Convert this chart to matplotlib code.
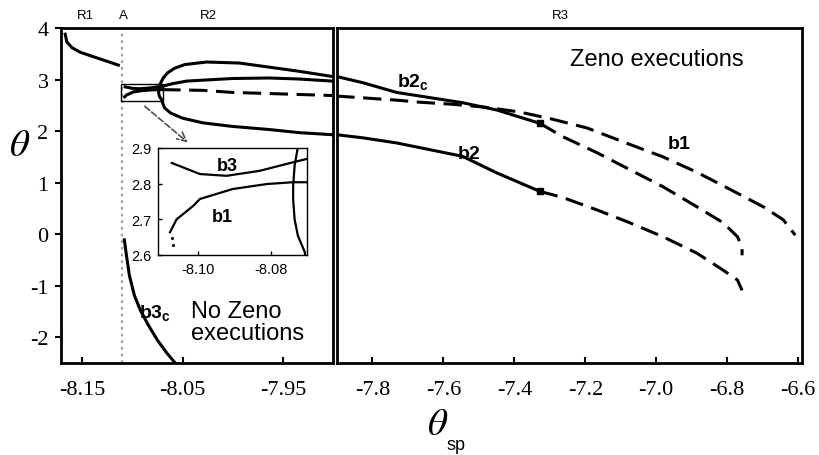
#! /usr/bin/env python3

import numpy as np
import matplotlib
matplotlib.use("Agg")
import matplotlib.pyplot as plt
import matplotlib.patches as patches

plt.rcParams['axes.unicode_minus'] = False
plt.rcParams['mathtext.fontset'] = 'custom'
plt.rcParams['mathtext.bf'] = 'Liberation Sans:bold'
plt.rcParams['mathtext.rm'] = 'Liberation Sans'

SANS = 'Liberation Sans'
SERIF = 'Liberation Serif'

# ---- data (theta_sp, theta) ----
# R1 branch
r1_x = [-8.1668, -8.1652, -8.1602, -8.1520, -8.1322, -8.1140]
r1_y = [3.88, 3.73, 3.62, 3.53, 3.40, 3.28]

# fold ("fish"): lower branch -> nose -> upper branch
fish_x = [-7.9015, -7.9342, -7.9639, -8.0005, -8.0300, -8.0500, -8.0620, -8.0680, -8.0700,
          -8.0707, -8.0726, -8.0735, -8.0739, -8.0739, -8.0735, -8.0727,
          -8.0715, -8.0690, -8.0650, -8.0580, -8.0480, -8.0262, -7.9936, -7.9639, -7.9342, -7.9015]
fish_y = [1.93, 1.97, 2.03, 2.09, 2.16, 2.25, 2.35, 2.45, 2.55,
          2.608, 2.654, 2.70, 2.757, 2.794, 2.850, 2.897,
          2.95, 3.04, 3.13, 3.22, 3.29, 3.34, 3.32, 3.24, 3.16, 3.06]

# b3 (solid) + middle branch
b3_x = [-8.1072, -8.0995, -8.0922, -8.0831, -8.0739, -8.0703, -8.0600, -8.0460, -8.0005, -7.9639, -7.9342, -7.9015]
b3_y = [2.858, 2.827, 2.822, 2.836, 2.860, 2.869, 2.92, 2.97, 3.02, 3.03, 3.01, 2.97]

# b1 solid part (inset) and dashed part
b1s_x = [-8.1077, -8.1059, -8.1013, -8.0995, -8.0905, -8.0811, -8.0740, -8.0703]
b1s_y = [2.664, 2.700, 2.738, 2.757, 2.785, 2.799, 2.804, 2.804]
b1dots_x = [-8.1071, -8.1068]
b1dots_y = [2.647, 2.628]
b1d_left_x = [-8.0703, -8.0300, -8.0005, -7.9500, -7.9015]
b1d_left_y = [2.804, 2.79, 2.75, 2.72, 2.69]
b1d_right_x = [-7.902, -7.732, -7.667, -7.574, -7.478, -7.385, -7.292, -7.195, -7.074, -6.981,
               -6.885, -6.792, -6.698, -6.642, -6.608]
b1d_right_y = [2.68, 2.60, 2.56, 2.52, 2.46, 2.37, 2.23, 2.06, 1.74, 1.50,
               1.20, 0.87, 0.53, 0.28, -0.02]

# b3c
b3c_x = [-8.108, -8.106, -8.103, -8.098, -8.092, -8.084, -8.075, -8.066, -8.057]
b3c_y = [-0.11, -0.40, -0.80, -1.19, -1.48, -1.77, -2.06, -2.30, -2.51]

# b2c solid / dashed
b2c_x = [-7.902, -7.828, -7.732, -7.667, -7.546, -7.450, -7.328]
b2c_y = [3.06, 2.94, 2.75, 2.68, 2.55, 2.41, 2.15]
b2cd_x = [-7.328, -7.263, -7.167, -7.074, -6.981, -6.885, -6.811, -6.771, -6.758, -6.758]
b2cd_y = [2.15, 1.89, 1.58, 1.25, 0.92, 0.53, 0.22, -0.05, -0.25, -0.41]

# b2 solid / dashed
b2_x = [-7.902, -7.828, -7.732, -7.546, -7.450, -7.328]
b2_y = [1.93, 1.87, 1.77, 1.51, 1.19, 0.83]
b2d_x = [-7.328, -7.263, -7.167, -7.074, -6.981, -6.885, -6.811, -6.771, -6.758]
b2d_y = [0.83, 0.71, 0.47, 0.22, -0.05, -0.37, -0.70, -0.89, -1.09]

# bifurcation points
sq_x = [-7.328, -7.328]
sq_y = [2.15, 0.83]

line_A = -8.110

left_ticks = [-8.15, -8.05, -7.95]
right_ticks = [-7.8, -7.6, -7.4, -7.2, -7.0, -6.8, -6.6]
y_ticks = [-2, -1, 0, 1, 2, 3, 4]
inset_xticks = [-8.10, -8.08]
inset_yticks = [2.6, 2.7, 2.8, 2.9]

W, H = 819, 456
LW = 2.2
DASH = (6, 2.8)

fig = plt.figure(figsize=(W / 100, H / 100), dpi=100)

def fbox(x0, y0, x1, y1):
    return [x0 / W, 1 - y1 / H, (x1 - x0) / W, (y1 - y0) / H]

ax1 = fig.add_axes(fbox(61, 29, 333, 364))
ax2 = fig.add_axes(fbox(337, 29, 802, 364))
axi = fig.add_axes(fbox(158, 149, 307, 256))

# ---- left axes ----
ax1.axvline(line_A, color='0.62', ls=(0, (1.2, 1.8)), lw=1.6)
ax1.plot(r1_x, r1_y, 'k-', lw=LW)
ax1.plot(fish_x, fish_y, 'k-', lw=LW)
ax1.plot(b3_x, b3_y, 'k-', lw=LW)
ax1.plot(b1s_x, b1s_y, 'k-', lw=LW)
ax1.plot(b1d_left_x, b1d_left_y, 'k', lw=LW, dashes=DASH)
ax1.plot(b3c_x, b3c_y, 'k-', lw=LW)
ax1.add_patch(patches.Rectangle((-8.111, 2.58), 0.041, 0.33, fill=False, lw=1.0, ec='k', zorder=3))
ax1.annotate('', xy=(-8.045, 1.78), xytext=(-8.0876, 2.48),
             arrowprops=dict(arrowstyle='->', ls='--', color='0.3', lw=1.2,
                             shrinkA=0, shrinkB=0, mutation_scale=16))
ax1.set_xlim(-8.171, -7.9005)
ax1.set_ylim(-2.5, 4.0)
ax1.set_xticks(left_ticks)
ax1.set_xticklabels(['%.2f' % v for v in left_ticks], family=SERIF, fontsize=16)
ax1.set_yticks(y_ticks)
ax1.set_yticklabels([str(v) for v in y_ticks], family=SERIF, fontsize=16)
ax1.tick_params(axis='x', direction='in', length=4, width=1.5, pad=12)
ax1.tick_params(axis='y', direction='out', length=4, width=1.5, pad=5)
ax1.text(-8.042, -1.71, 'No Zeno\nexecutions', family=SANS, fontsize=17,
         ha='left', va='center', linespacing=1.0)
ax1.text(-8.0777, -1.52, r'$\mathbf{b3}_{\mathbf{c}}$', fontsize=14, ha='center', va='center')

# ---- right axes ----
ax2.plot(b2c_x, b2c_y, 'k-', lw=LW)
ax2.plot(b2cd_x, b2cd_y, 'k', lw=LW, dashes=DASH)
ax2.plot(b2_x, b2_y, 'k-', lw=LW)
ax2.plot(b2d_x, b2d_y, 'k', lw=LW, dashes=DASH)
ax2.plot(b1d_right_x, b1d_right_y, 'k', lw=LW, dashes=DASH)
ax2.plot(sq_x, sq_y, 'ks', ms=5)
ax2.set_xlim(-7.90, -6.589)
ax2.set_ylim(-2.5, 4.0)
ax2.set_xticks(right_ticks)
ax2.set_xticklabels(['%.1f' % v for v in right_ticks], family=SERIF, fontsize=16)
ax2.set_yticks([])
ax2.tick_params(axis='x', direction='in', length=4, width=1.5, pad=12)
ax2.text(-6.998, 3.40, 'Zeno executions', family=SANS, fontsize=17, ha='center', va='center')
ax2.text(-7.687, 2.95, r'$\mathbf{b2}_{\mathbf{c}}$', fontsize=14, ha='center', va='center')
ax2.text(-7.529, 1.58, r'$\mathbf{b2}$', fontsize=14, ha='center', va='center')
ax2.text(-6.936, 1.78, r'$\mathbf{b1}$', fontsize=14, ha='center', va='center')

for ax in (ax1, ax2):
    for s in ax.spines.values():
        s.set_linewidth(2.0)

# ---- inset ----
axi.plot(fish_x, fish_y, 'k-', lw=1.6)
axi.plot(b3_x, b3_y, 'k-', lw=1.6)
axi.plot(b1s_x, b1s_y, 'k-', lw=1.6)
axi.plot(b1dots_x, b1dots_y, 'k.', ms=2.5)
axi.set_xlim(-8.111, -8.0701)
axi.set_ylim(2.6, 2.9)
axi.set_xticks(inset_xticks)
axi.set_xticklabels(['%.2f' % v for v in inset_xticks], family=SANS, fontsize=10.5)
axi.set_yticks(inset_yticks)
axi.set_yticklabels(['%.1f' % v for v in inset_yticks], family=SANS, fontsize=10.5)
axi.tick_params(direction='in', length=3, width=1, pad=5)
for s in axi.spines.values():
    s.set_linewidth(1.0)
axi.text(-8.0921, 2.852, r'$\mathbf{b3}$', fontsize=13, ha='center', va='center')
axi.text(-8.0935, 2.709, r'$\mathbf{b1}$', fontsize=13, ha='center', va='center')

# ---- labels ----
fig.text(20 / W, 1 - 145 / H, r'$\theta$', math_fontfamily='stix', fontsize=28, ha='center', va='center')
fig.text(438 / W, 1 - 424 / H, r'$\theta$', math_fontfamily='stix', fontsize=28, ha='center', va='center')
fig.text(447 / W, 1 - 446 / H, 'sp', family=SANS, fontsize=13, ha='left', va='center')
for lab, px in (('R1', 85), ('A', 123), ('R2', 208), ('R3', 560)):
    fig.text(px / W, 1 - 16 / H, lab, family=SANS, fontsize=9.5, ha='center', va='center')

fig.savefig('out.png', dpi=100)
